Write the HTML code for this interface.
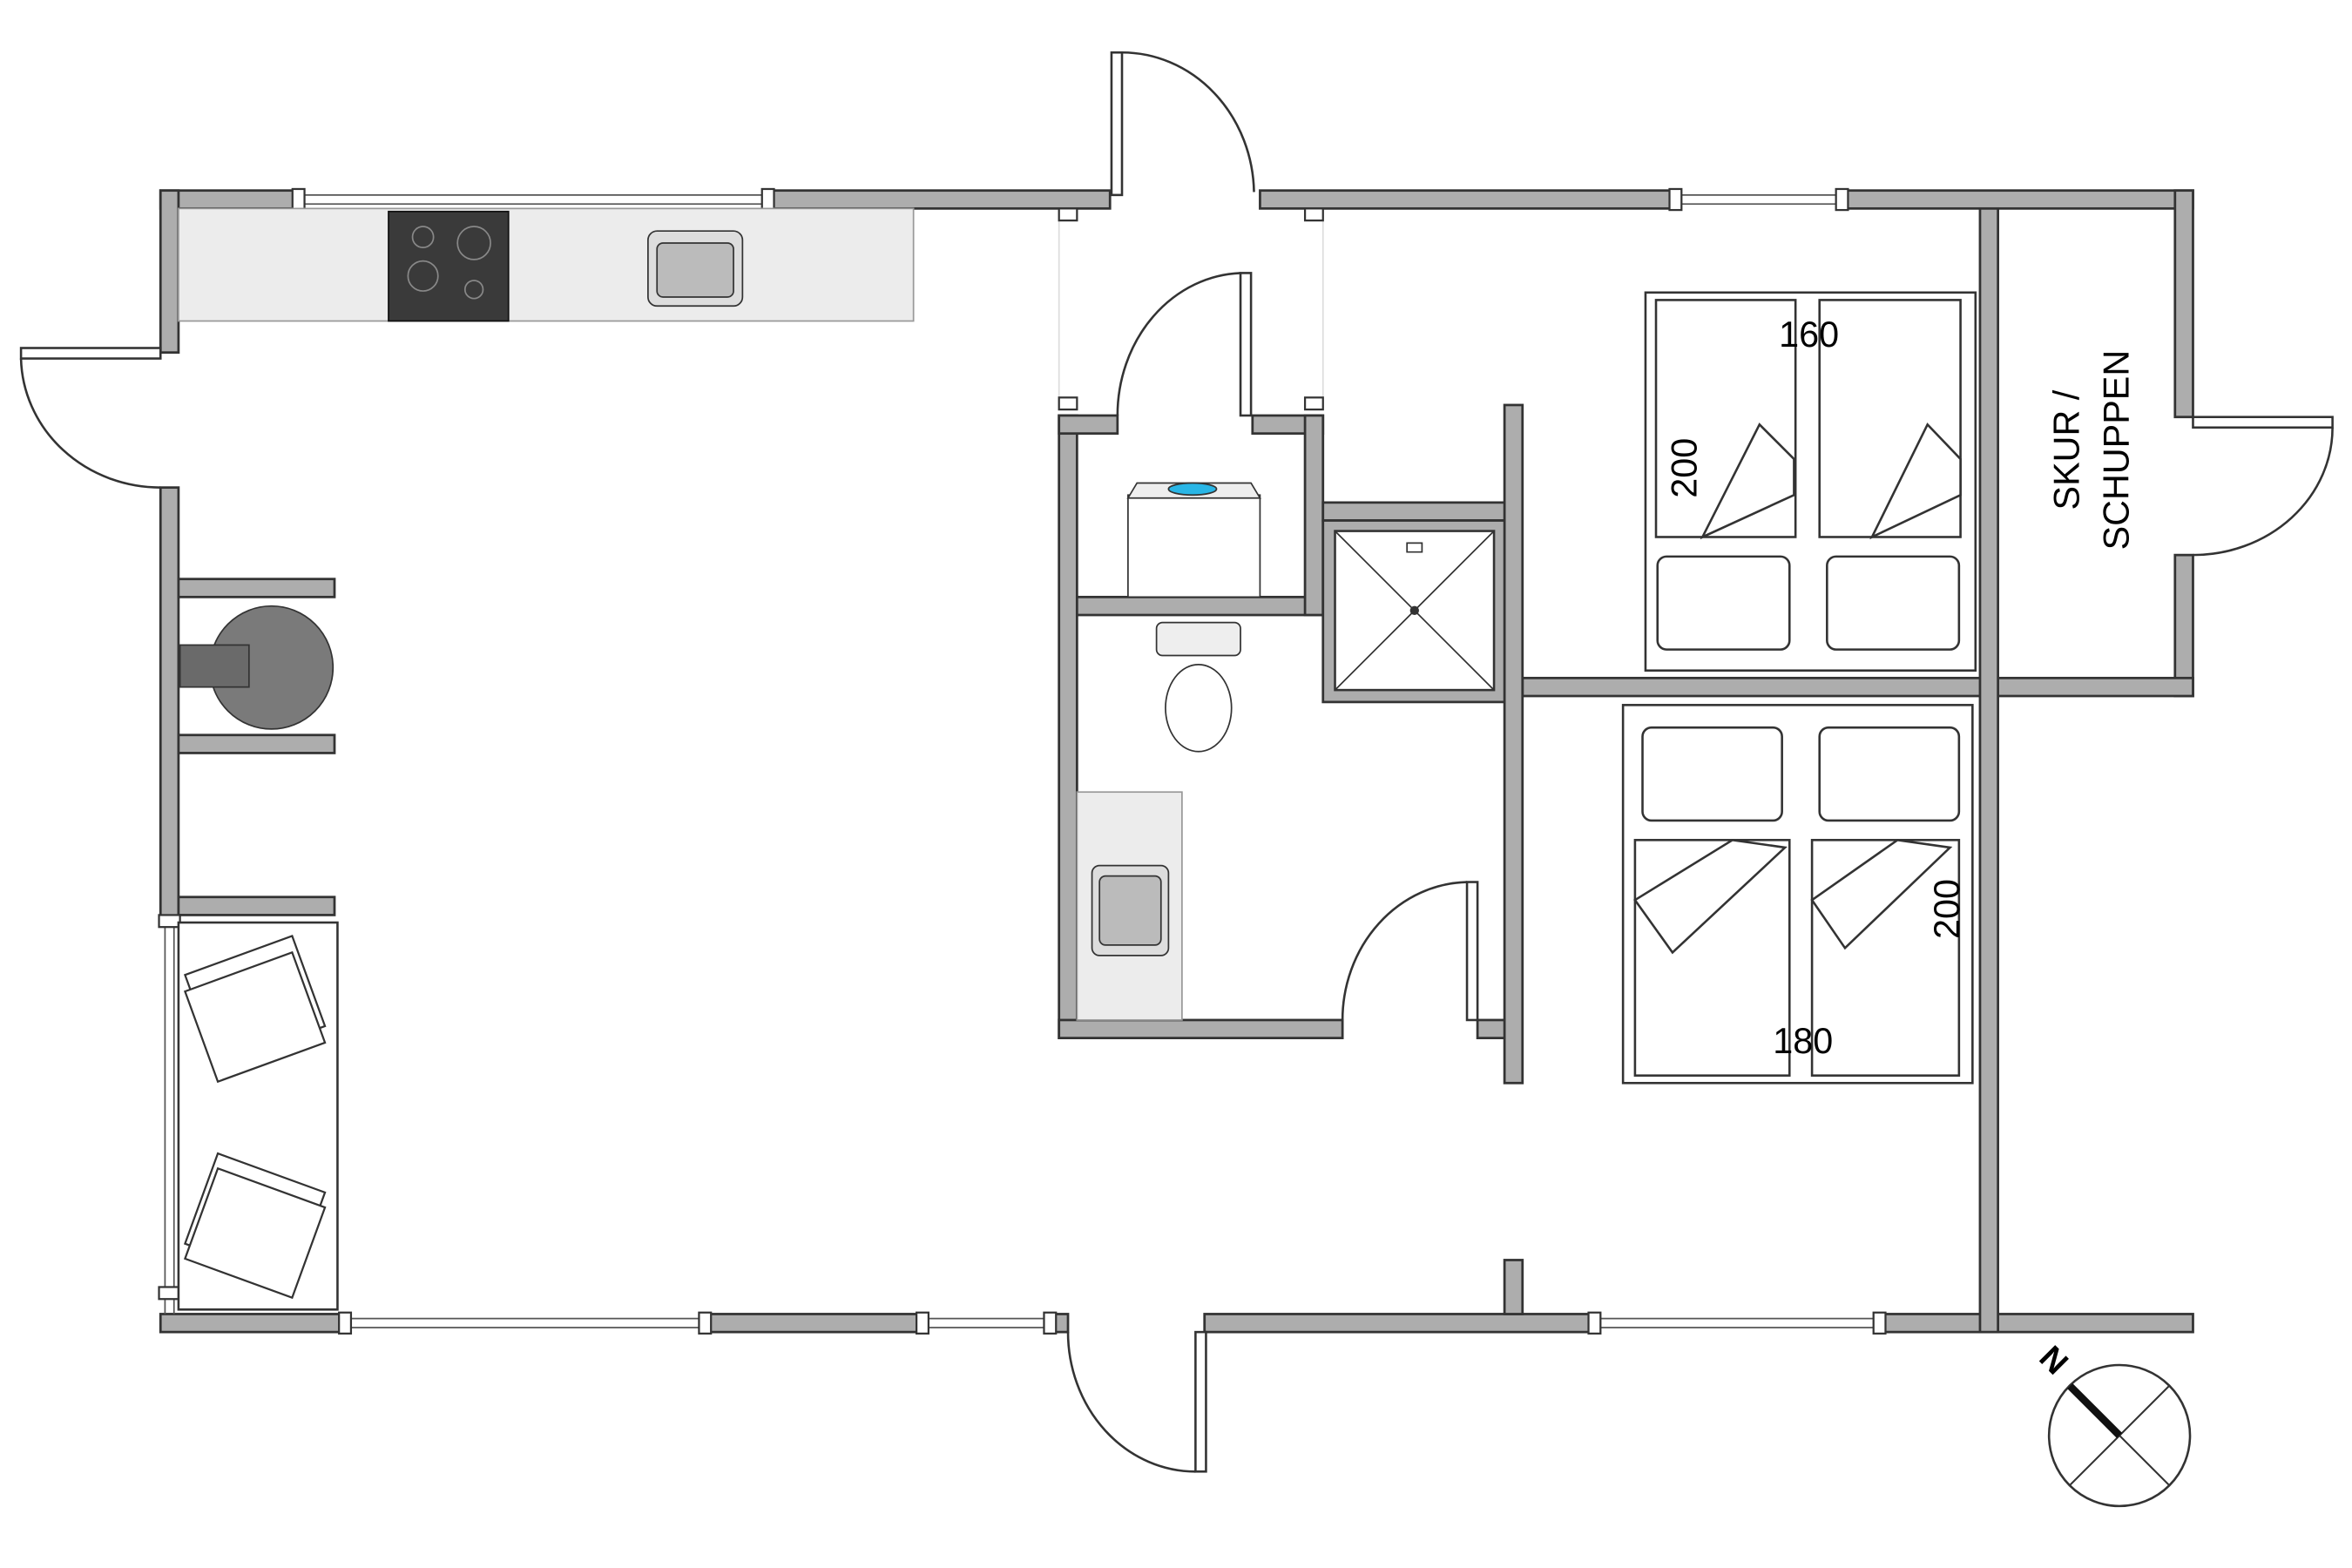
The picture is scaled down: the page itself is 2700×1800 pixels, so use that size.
<!DOCTYPE html>
<html><head><meta charset="utf-8"><style>html,body{margin:0;padding:0;background:#fff}svg{display:block}</style></head>
<body>
<svg width="2700" height="1800" viewBox="0 0 1568 1045.3" preserveAspectRatio="none" xmlns="http://www.w3.org/2000/svg" font-family="Liberation Sans, sans-serif">
<g fill="#adadad" stroke="#333" stroke-width="1.6">
<!-- top wall -->
<rect x="107" y="127" width="93" height="12"/>
<rect x="513" y="127" width="227" height="12"/>
<rect x="840" y="127" width="278" height="12"/>
<rect x="1228" y="127" width="234" height="12"/>
<!-- left wall -->
<rect x="107" y="127" width="12" height="108"/>
<rect x="107" y="325" width="12" height="290"/>
<!-- bottom wall -->
<rect x="107" y="876" width="123" height="12"/>
<rect x="470" y="876" width="145" height="12"/>
<rect x="700" y="876" width="12" height="12"/>
<rect x="803" y="876" width="260" height="12"/>
<rect x="1253" y="876" width="209" height="12"/>
<!-- right wall -->
<rect x="1450" y="127" width="12" height="151"/>
<rect x="1450" y="370" width="12" height="94"/>
<rect x="1015" y="452" width="447" height="12"/>
<rect x="1320" y="139" width="12" height="749"/>
<!-- bathroom -->
<rect x="706" y="277" width="12" height="415"/>
<rect x="706" y="680" width="189" height="12"/>
<rect x="706" y="277" width="39" height="12"/>
<rect x="835" y="277" width="47" height="12"/>
<rect x="718" y="398" width="164" height="12"/>
<rect x="870" y="277" width="12" height="133"/>
<rect x="1003" y="270" width="12" height="452"/>
<rect x="882" y="335" width="121" height="12"/>
<rect x="882" y="347" width="121" height="121"/>
<rect x="985" y="680" width="18" height="12"/>
<rect x="1003" y="840" width="12" height="36"/>
<!-- fireplace walls -->
<rect x="119" y="386" width="104" height="12"/>
<rect x="119" y="490" width="104" height="12"/>
<rect x="119" y="598" width="104" height="12"/>
</g>
<!-- shower inner -->
<rect x="890" y="354" width="106" height="106" fill="#fff" stroke="#333" stroke-width="1.5"/>
<path d="M890 354 L996 460 M996 354 L890 460" stroke="#333" stroke-width="1"/>
<circle cx="943" cy="407" r="3" fill="#333"/>
<path d="M938 362 h10 v6 h-10z" fill="none" stroke="#333"/>
<!-- windows thin lines -->
<g stroke="#555" stroke-width="1" fill="none">
<path d="M200 130 H513 M200 136 H513"/>
<path d="M1118 130 H1228 M1118 136 H1228"/>
<path d="M230 879 H470 M230 885 H470"/>
<path d="M615 879 H700 M615 885 H700"/>
<path d="M1063 879 H1253 M1063 885 H1253"/>
<path d="M110 615 V876 M116 615 V876"/>
<path d="M706 139 V265 M882 139 V265" stroke="#ddd"/>
</g>
<g fill="#fff" stroke="#333" stroke-width="1.3">
<rect x="195" y="126" width="8" height="14"/><rect x="508" y="126" width="8" height="14"/>
<rect x="1113" y="126" width="8" height="14"/><rect x="1224" y="126" width="8" height="14"/>
<rect x="226" y="875" width="8" height="14"/><rect x="466" y="875" width="8" height="14"/>
<rect x="611" y="875" width="8" height="14"/><rect x="696" y="875" width="8" height="14"/>
<rect x="1059" y="875" width="8" height="14"/><rect x="1249" y="875" width="8" height="14"/>
<rect x="106" y="610" width="14" height="8"/><rect x="106" y="858" width="14" height="8"/>
<rect x="706" y="265" width="12" height="8"/><rect x="870" y="265" width="12" height="8"/>
<rect x="706" y="139" width="12" height="8"/><rect x="870" y="139" width="12" height="8"/>
</g>
<!-- doors -->
<g fill="none" stroke="#333" stroke-width="1.5">
<rect x="741" y="35" width="7" height="95" fill="#fff"/>
<path d="M748 35 A88 95 0 0 1 836 128"/>
<rect x="827" y="182" width="7" height="95" fill="#fff"/>
<path d="M827 182 A85 95 0 0 0 745 277"/>
<rect x="14" y="232" width="93" height="7" fill="#fff"/>
<path d="M14 239 A93 88 0 0 0 107 325"/>
<rect x="1462" y="278" width="93" height="7" fill="#fff"/>
<path d="M1555 285 A93 85 0 0 1 1462 370"/>
<rect x="797" y="888" width="7" height="93" fill="#fff"/>
<path d="M797 981 A85 93 0 0 1 712 888"/>
<rect x="978" y="588" width="7" height="92" fill="#fff"/>
<path d="M978 588 A85 92 0 0 0 895 680"/>
</g>
<!-- kitchen -->
<rect x="119" y="139" width="490" height="75" fill="#ececec" stroke="#999"/>
<rect x="259" y="141" width="80" height="73" fill="#3a3a3a" stroke="#111"/>
<g fill="none" stroke="#888"><circle cx="282" cy="158" r="7"/><circle cx="316" cy="162" r="11"/><circle cx="282" cy="184" r="10"/><circle cx="316" cy="193" r="6"/></g>
<rect x="432" y="154" width="63" height="50" rx="6" fill="#ddd" stroke="#333"/>
<rect x="438" y="162" width="51" height="36" rx="4" fill="#bbb" stroke="#333"/>
<!-- stove -->
<circle cx="181" cy="445" r="41" fill="#7a7a7a" stroke="#333"/>
<rect x="120" y="430" width="46" height="28" fill="#6a6a6a" stroke="#333"/>
<!-- sofa -->
<rect x="119" y="615" width="106" height="258" fill="#fff" stroke="#333" stroke-width="1.5"/>
<g fill="#fff" stroke="#333" stroke-width="1.3">
<rect x="132" y="635" width="76" height="64" transform="rotate(-20 170 667)"/>
<rect x="132" y="646" width="76" height="64" transform="rotate(-20 170 678)"/>
<rect x="132" y="780" width="76" height="64" transform="rotate(20 170 812)"/>
<rect x="132" y="790" width="76" height="64" transform="rotate(20 170 822)"/>
</g>
<!-- laundry/wc -->
<rect x="752" y="330" width="88" height="68" fill="#fff" stroke="#333"/>
<path d="M758 322 h76 l6 10 h-88z" fill="#eee" stroke="#333"/>
<ellipse cx="795" cy="326" rx="16" ry="4" fill="#29b6e6" stroke="#333"/>
<rect x="771" y="415" width="56" height="22" rx="4" fill="#eee" stroke="#333"/>
<ellipse cx="799" cy="472" rx="22" ry="29" fill="#fff" stroke="#333"/>
<rect x="718" y="528" width="70" height="152" fill="#ececec" stroke="#999"/>
<rect x="728" y="577" width="51" height="60" rx="5" fill="#ddd" stroke="#333"/>
<rect x="733" y="584" width="41" height="46" rx="4" fill="#bbb" stroke="#333"/>
<!-- bed 1 -->
<g fill="#fff" stroke="#333" stroke-width="1.5">
<rect x="1097" y="195" width="220" height="252"/>
<rect x="1104" y="200" width="93" height="158"/>
<rect x="1213" y="200" width="94" height="158"/>
<rect x="1105" y="371" width="88" height="62" rx="6"/>
<rect x="1218" y="371" width="88" height="62" rx="6"/>
<path d="M1135 358 L1173 283 L1196 306 V330Z M1248 358 L1285 283 L1307 306 V330Z"/>
<rect x="1082" y="470" width="233" height="252"/>
<rect x="1090" y="560" width="103" height="157"/>
<rect x="1208" y="560" width="98" height="157"/>
<rect x="1095" y="485" width="93" height="62" rx="6"/>
<rect x="1213" y="485" width="93" height="62" rx="6"/>
<path d="M1090 600 L1155 560 L1190 565 L1115 635Z M1208 600 L1265 560 L1300 565 L1230 632Z"/>
</g>
<text x="1206" y="231" font-size="24" text-anchor="middle">160</text>
<text x="1202" y="702" font-size="24" text-anchor="middle">180</text>
<text font-size="24" text-anchor="middle" transform="translate(1131 312) rotate(-90)">200</text>
<text font-size="24" text-anchor="middle" transform="translate(1306 606) rotate(-90)">200</text>
<text font-size="24" text-anchor="middle" transform="translate(1386 300) rotate(-90)">SKUR /</text>
<text font-size="24" text-anchor="middle" transform="translate(1419 300) rotate(-90)">SCHUPPEN</text>
<!-- compass -->
<circle cx="1413" cy="957" r="47" fill="#fff" stroke="#333" stroke-width="1.5"/>
<path d="M1380 924 L1446 990 M1446 924 L1380 990" stroke="#333" stroke-width="1.2"/>
<path d="M1380 924 L1413 957" stroke="#111" stroke-width="5"/>
<text font-size="22" font-weight="bold" text-anchor="middle" transform="translate(1364 912) rotate(45)">N</text>
</svg>
</body></html>
